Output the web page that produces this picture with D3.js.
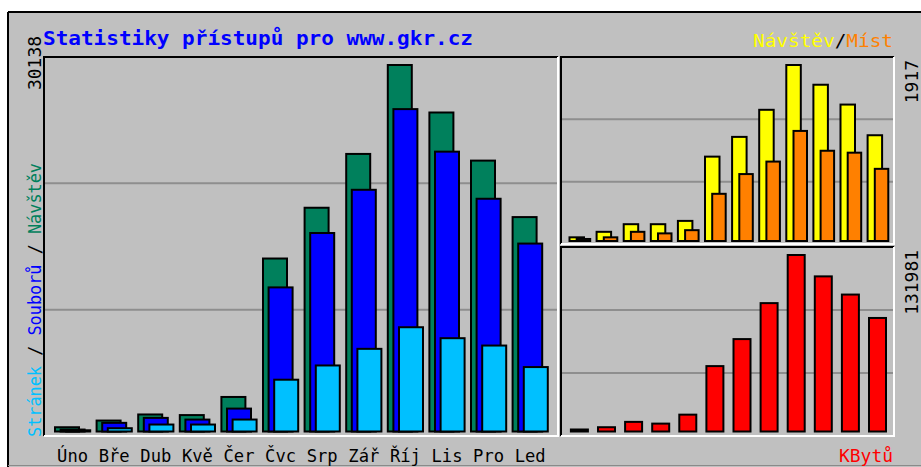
<!DOCTYPE html>
<html>
<head>
<meta charset="utf-8">
<script src="https://cdn.jsdelivr.net/npm/d3@7/dist/d3.min.js"></script>
<style>
body { margin: 0; background: #fff; }
svg { display: block; }
</style>
</head>
<body>
<div id="chart"></div>
<script>
// data
var months = ['Úno', 'Bře', 'Dub', 'Kvě', 'Čer', 'Čvc', 'Srp', 'Zář', 'Říj', 'Lis', 'Pro', 'Led'];
var hits = [350, 900, 1400, 1350, 2840, 14225, 18400, 22825, 30138, 26232, 22276, 17632];
var files = [160, 712, 1120, 980, 1884, 11850, 16322, 19876, 26510, 23013, 19139, 15454];
var pages = [100, 270, 573, 573, 983, 4259, 5430, 6797, 8574, 7673, 7068, 5299];
var visits = [40, 100, 183, 183, 219, 919, 1134, 1429, 1917, 1702, 1486, 1152];
var sites = [22, 40, 100, 83, 118, 514, 729, 865, 1199, 983, 962, 786];
var kbytes = [1500, 3200, 7200, 5900, 12600, 48900, 69100, 96000, 131981, 116000, 102400, 84900];

var W = 921, H = 467;
var mono = "'DejaVu Sans Mono', monospace";

var svg = d3.select('#chart').append('svg')
    .attr('width', W).attr('height', H);

// outer frame
svg.append('rect').attr('x', 8).attr('y', 12).attr('width', W).attr('height', H)
    .attr('fill', '#c0c0c0');
svg.append('line').attr('x1', 8).attr('y1', 12).attr('x2', W).attr('y2', 12)
    .attr('stroke', '#000').attr('stroke-width', 2);
svg.append('line').attr('x1', 8).attr('y1', 12).attr('x2', 8).attr('y2', H)
    .attr('stroke', '#000').attr('stroke-width', 2);
svg.append('line').attr('x1', 8).attr('y1', 465.5).attr('x2', W).attr('y2', 465.5)
    .attr('stroke', '#8a8a8a').attr('stroke-width', 1);

// panels: left, top right, bottom right
var panels = [
    { x0: 44, x1: 558, y0: 57, y1: 436 },
    { x0: 561, x1: 894, y0: 57, y1: 244 },
    { x0: 561, x1: 894, y0: 247, y1: 436 }
];

panels.forEach(function(p) {
    // grid lines at thirds of the panel
    var gy = d3.scaleLinear().domain([0, 3]).range([p.y1, p.y0]);
    svg.selectAll(null).data([1, 2]).enter().append('line')
        .attr('x1', p.x0).attr('x2', p.x1)
        .attr('y1', function(d) { return gy(d); })
        .attr('y2', function(d) { return gy(d); })
        .attr('stroke', '#8e8e8e').attr('stroke-width', 2);
});

function drawBars(data, x, y, dx, w, color) {
    svg.append('g').selectAll('rect').data(data).enter().append('rect')
        .attr('x', function(d, i) { return x(months[i]) + dx; })
        .attr('y', function(d) { return y(d); })
        .attr('width', w)
        .attr('height', function(d) { return y(0) - y(d); })
        .attr('fill', color)
        .attr('stroke', '#000')
        .attr('stroke-width', 2);
}

// left panel
var xMain = d3.scaleBand().domain(months).range([55, 55 + 12 * 41.6]);
var yMain = d3.scaleLinear().domain([0, d3.max(hits)]).range([431.5, 65]);
drawBars(hits, xMain, yMain, 0, 24, '#00805c');
drawBars(files, xMain, yMain, 5.6, 24, '#0000ff');
drawBars(pages, xMain, yMain, 11.2, 24, '#00c0ff');

// top right panel
var xRight = d3.scaleBand().domain(months).range([569.5, 569.5 + 12 * 27.1]);
var yVis = d3.scaleLinear().domain([0, d3.max(visits)]).range([241, 65]);
drawBars(visits, xRight, yVis, 0, 14.5, '#ffff00');
drawBars(sites, xRight, yVis, 7.2, 13.5, '#ff8000');

// bottom right panel
var yKb = d3.scaleLinear().domain([0, d3.max(kbytes)]).range([431.5, 255]);
drawBars(kbytes, xRight, yKb, 1.4, 17, '#ff0000');

// panel borders (dark top/left, white bottom/right)
panels.forEach(function(p) {
    svg.append('path')
        .attr('d', 'M' + p.x0 + ',' + p.y1 + 'V' + p.y0 + 'H' + p.x1)
        .attr('fill', 'none').attr('stroke', '#000').attr('stroke-width', 2);
    svg.append('path')
        .attr('d', 'M' + p.x0 + ',' + p.y1 + 'H' + p.x1 + 'V' + p.y0)
        .attr('fill', 'none').attr('stroke', '#fff').attr('stroke-width', 2);
});

// month labels
svg.append('g').selectAll('text').data(months).enter().append('text')
    .attr('x', function(d) { return xMain(d) + 17.6; })
    .attr('y', 462)
    .attr('text-anchor', 'middle')
    .attr('font-family', mono).attr('font-size', 18)
    .attr('textLength', 31).attr('lengthAdjust', 'spacingAndGlyphs')
    .text(function(d) { return d; });

// title
svg.append('text').attr('x', 43).attr('y', 45)
    .attr('font-family', mono).attr('font-size', 20).attr('font-weight', 'bold')
    .attr('fill', '#0000ff')
    .attr('textLength', 430).attr('lengthAdjust', 'spacingAndGlyphs')
    .text('Statistiky přístupů pro www.gkr.cz');

// legend top right
var leg = svg.append('text').attr('x', 753).attr('y', 47)
    .attr('font-family', mono).attr('font-size', 17)
    .attr('textLength', 140).attr('lengthAdjust', 'spacingAndGlyphs');
leg.append('tspan').attr('fill', '#ffff00').text('Návštěv');
leg.append('tspan').attr('fill', '#000').text('/');
leg.append('tspan').attr('fill', '#ff8000').text('Míst');

// legend bottom right
svg.append('text').attr('x', 893).attr('y', 462).attr('text-anchor', 'end')
    .attr('font-family', mono).attr('font-size', 17).attr('fill', '#ff0000')
    .attr('textLength', 54).attr('lengthAdjust', 'spacingAndGlyphs')
    .text('KBytů');

// vertical legend left
var vl = svg.append('text')
    .attr('transform', 'translate(41,437) rotate(-90)')
    .attr('font-family', mono).attr('font-size', 17)
    .attr('textLength', 274).attr('lengthAdjust', 'spacingAndGlyphs');
vl.append('tspan').attr('fill', '#00c0ff').text('Stránek');
vl.append('tspan').attr('fill', '#000').text(' / ');
vl.append('tspan').attr('fill', '#0000ff').text('Souborů');
vl.append('tspan').attr('fill', '#000').text(' / ');
vl.append('tspan').attr('fill', '#00805c').text('Návštěv');

// max value labels
function upLabel(txt, x, yTop) {
    svg.append('text')
        .attr('transform', 'translate(' + x + ',' + yTop + ') rotate(-90)')
        .attr('text-anchor', 'end')
        .attr('font-family', mono).attr('font-size', 17).attr('fill', '#000')
        .attr('textLength', txt.length * 10.8).attr('lengthAdjust', 'spacingAndGlyphs')
        .text(txt);
}
upLabel(String(d3.max(hits)), 41, 36);
upLabel(String(d3.max(visits)), 918, 60);
upLabel(String(d3.max(kbytes)), 918, 250);
</script>
</body>
</html>
